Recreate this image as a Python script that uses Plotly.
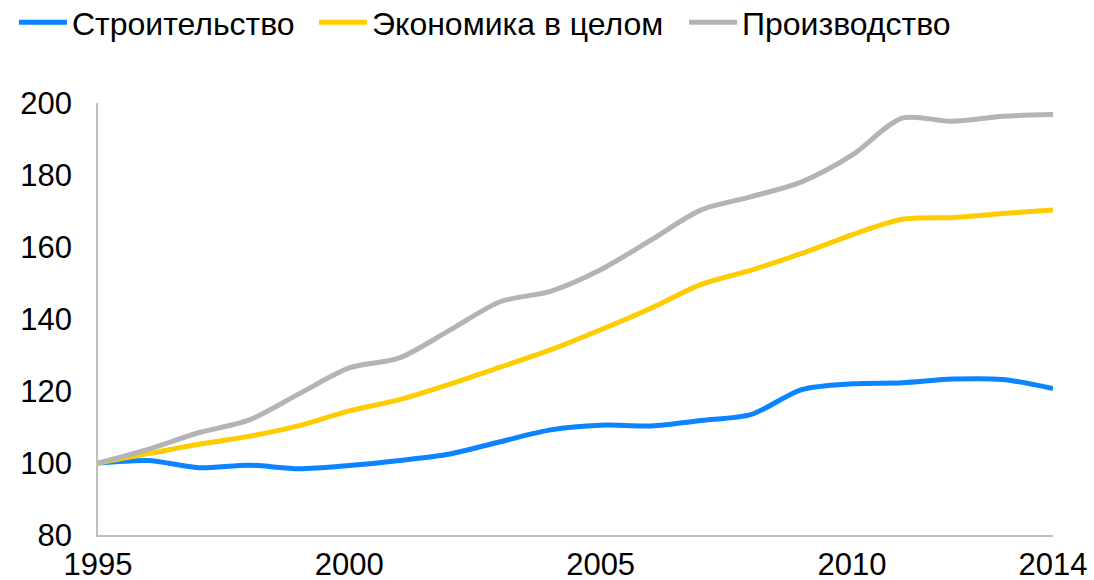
import plotly.graph_objects as go

years = list(range(1995, 2015))
construction = [100, 100.7, 98.7, 99.4, 98.4, 99.3, 100.7, 102.5, 105.9, 109.2,
                110.5, 110.3, 111.8, 113.5, 120.4, 122.0, 122.3, 123.3, 123.2, 120.7]
economy = [100, 102.6, 105.2, 107.4, 110.4, 114.5, 117.6, 121.9, 126.6, 131.4,
           137.0, 143.0, 149.6, 153.6, 158.2, 163.4, 167.7, 168.2, 169.3, 170.3]
manufacturing = [100, 103.8, 108.4, 111.9, 119.2, 126.4, 129.2, 136.9, 144.8, 147.7,
                 153.7, 161.9, 170.3, 174.0, 178.1, 185.5, 195.8, 194.9, 196.3, 196.8]

series_names = ["Строительство", "Экономика в целом", "Производство"]
series_colors = ["#0A84FF", "#FFCC00", "#B4B4B4"]
x_ticks = [1995, 2000, 2005, 2010, 2014]
y_ticks = [80, 100, 120, 140, 160, 180, 200]

legend_ids = ["legend", "legend2", "legend3"]
legend_x = [-0.088, 0.2262, 0.6136]

fig = go.Figure()
for name, vals, col, lid in zip(series_names, [construction, economy, manufacturing],
                                series_colors, legend_ids):
    fig.add_trace(go.Scatter(
        x=years, y=vals, name=name, mode="lines", legend=lid,
        line=dict(color=col, width=5, shape="spline", smoothing=0.8),
    ))

font_family = "Liberation Sans, Arial, sans-serif"
legend_common = dict(
    orientation="h", y=1.25, xref="paper", yref="paper",
    xanchor="left", yanchor="top",
    font=dict(size=32, color="black"),
    itemwidth=48, bgcolor="rgba(0,0,0,0)",
)
layout_legends = {lid: dict(legend_common, x=lx) for lid, lx in zip(legend_ids, legend_x)}

fig.update_layout(
    width=1094, height=580,
    margin=dict(l=98, r=41, t=103, b=45, autoexpand=False),
    paper_bgcolor="white", plot_bgcolor="white",
    font=dict(family=font_family, size=32, color="black"),
    showlegend=True,
    xaxis=dict(
        range=[1995, 2014], tickvals=x_ticks, ticktext=[str(t) for t in x_ticks],
        showgrid=False, zeroline=False, showline=True, linecolor="#BFBFBF", linewidth=1.5,
        ticks="", ticklabelstandoff=1, tickfont=dict(size=31), automargin=False,
    ),
    yaxis=dict(
        range=[80, 200], tickvals=y_ticks,
        showgrid=False, zeroline=False, showline=True, linecolor="#BFBFBF", linewidth=1.5,
        ticks="", ticklabelstandoff=18, tickfont=dict(size=31), automargin=False,
    ),
    **layout_legends,
)

fig.write_html("out.html", post_script="document.body.style.margin='0';",
               config={"displayModeBar": False})
